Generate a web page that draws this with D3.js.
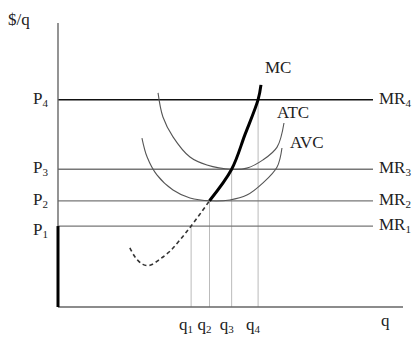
<!DOCTYPE html>
<html>
<head>
<meta charset="utf-8">
<script src="https://cdn.jsdelivr.net/npm/d3@7"></script>
<style>
  body { margin: 0; background: #fff; }
  text { font-family: "Liberation Serif", "Times New Roman", serif; fill: #222; }
</style>
</head>
<body>
<script>
// Chart size
var w = 414;
var h = 338;

// Price levels (P1..P4) and matching quantities (q1..q4)
var priceLabels = ["1", "2", "3", "4"];
var prices = [2.85, 3.74, 4.85, 7.3];
var quantities = [4.63, 5.27, 6.04, 6.96];

// Marginal cost: dashed part below shutdown, solid supply part above
var mcDashed = [[2.5, 2.08], [2.68, 1.76], [2.95, 1.5], [3.2, 1.47], [3.55, 1.69], [3.9, 1.97], [4.24, 2.36], [4.63, 2.85], [5.27, 3.74]];
var mcSolid = [[5.27, 3.74], [6.04, 4.85], [6.5, 6.06], [6.96, 7.3], [7.06, 7.82]];

// Average total cost and average variable cost
var atc = [[3.48, 7.54], [3.65, 6.69], [4.0, 5.99], [4.59, 5.28], [5.18, 5.0], [6.04, 4.85], [6.57, 4.89], [7.13, 5.18], [7.62, 5.63], [7.86, 6.48]];
var avc = [[2.92, 5.95], [3.1, 5.28], [3.44, 4.65], [4.0, 4.12], [4.59, 3.84], [5.3, 3.74], [5.98, 3.77], [6.57, 3.94], [7.13, 4.37], [7.62, 4.93], [7.79, 5.6]];

var svg = d3.select("body").append("svg")
    .attr("width", w)
    .attr("height", h);

// Scales
var x = d3.scaleLinear().domain([0, 12]).range([58, 403]);
var y = d3.scaleLinear().domain([0, 10]).range([307, 23]);
var xEnd = 373; // where the MR lines stop

var line = d3.line()
    .x(function(d) { return x(d[0]); })
    .y(function(d) { return y(d[1]); })
    .curve(d3.curveCatmullRom);

// Dotted guides from each intersection down to the q axis
svg.selectAll(".guide")
    .data(quantities)
    .enter()
    .append("line")
    .attr("x1", function(d) { return x(d); })
    .attr("x2", function(d) { return x(d); })
    .attr("y1", function(d, i) { return y(prices[i]); })
    .attr("y2", y(0))
    .attr("stroke", "#bbb")
    .attr("stroke-width", 1);

// Horizontal price / MR lines
svg.selectAll(".mr")
    .data(prices)
    .enter()
    .append("line")
    .attr("x1", x(0))
    .attr("x2", xEnd)
    .attr("y1", function(d) { return y(d); })
    .attr("y2", function(d) { return y(d); })
    .attr("stroke", function(d, i) { return i == 3 ? "#111" : "#777"; })
    .attr("stroke-width", function(d, i) { return i == 3 ? 1.6 : 1.3; });

// Axes (plain lines, no ticks)
svg.append("line")
    .attr("x1", x(0)).attr("x2", x(0))
    .attr("y1", y(10)).attr("y2", y(0))
    .attr("stroke", "#666").attr("stroke-width", 1.4);
svg.append("line")
    .attr("x1", x(0)).attr("x2", x(12))
    .attr("y1", y(0)).attr("y2", y(0))
    .attr("stroke", "#666").attr("stroke-width", 1.4);

// Thick segment on the price axis below P1 (supply = 0)
svg.append("line")
    .attr("x1", x(0)).attr("x2", x(0))
    .attr("y1", y(prices[0])).attr("y2", y(0))
    .attr("stroke", "#000").attr("stroke-width", 3);

// ATC and AVC curves
svg.append("path").attr("d", line(atc))
    .attr("fill", "none").attr("stroke", "#555").attr("stroke-width", 1.1);
svg.append("path").attr("d", line(avc))
    .attr("fill", "none").attr("stroke", "#555").attr("stroke-width", 1.1);

// MC curve
svg.append("path").attr("d", line(mcDashed))
    .attr("fill", "none").attr("stroke", "#333")
    .attr("stroke-width", 1.6).attr("stroke-dasharray", "4,3");
svg.append("path").attr("d", line(mcSolid))
    .attr("fill", "none").attr("stroke", "#000").attr("stroke-width", 3);

// Label helper: main text with a subscript
function subLabel(x0, y0, main, sub, anchor) {
    var t = svg.append("text")
        .attr("x", x0).attr("y", y0)
        .attr("font-size", 17)
        .attr("text-anchor", anchor || "start");
    t.append("tspan").text(main);
    if (sub) {
        t.append("tspan").text(sub).attr("font-size", 11).attr("dy", 3);
    }
    return t;
}

// P labels on the left
prices.forEach(function(p, i) {
    subLabel(33, y(p) + (i == 0 ? 9 : 4), "P", priceLabels[i]);
});

// MR labels on the right
prices.forEach(function(p, i) {
    subLabel(379, y(p) + 4, "MR", priceLabels[i]);
});

// q labels under the axis
quantities.forEach(function(q, i) {
    subLabel(x(q) - 5, 330, "q", priceLabels[i], "middle");
});

// Curve names and axis titles
subLabel(265, 73, "MC");
subLabel(277, 118, "ATC");
subLabel(290, 148, "AVC");
subLabel(8, 25, "$/q");
subLabel(381, 326, "q");
</script>
</body>
</html>
